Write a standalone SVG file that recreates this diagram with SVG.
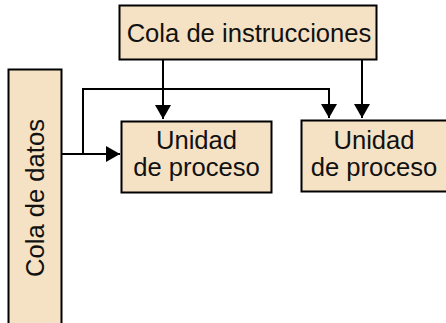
<svg xmlns="http://www.w3.org/2000/svg" width="446" height="323" viewBox="0 0 446 323">
<style>
.box{fill:#F5E1C3;stroke:#000;stroke-width:2}
.t{font-family:"Liberation Sans",Arial,sans-serif;font-size:25.6px;fill:#111;text-anchor:middle}
.c{fill:none;stroke:#000;stroke-width:2}
</style>
<defs>
<marker id="ah" viewBox="0 0 14 16" refX="14" refY="8" markerWidth="14" markerHeight="16" markerUnits="userSpaceOnUse" orient="auto">
<path d="M0,0 L14,8 L0,16 Z" fill="#000"/>
</marker>
</defs>
<rect width="446" height="323" fill="#fff"/>
<g id="cola-instrucciones">
<rect class="box" x="119.5" y="5.5" width="257" height="54"/>
<text class="t" x="249" y="42">Cola de instrucciones</text>
</g>
<g id="cola-datos">
<rect class="box" x="8.5" y="69.5" width="53" height="260"/>
<text class="t" transform="translate(44,198) rotate(-90)">Cola de datos</text>
</g>
<g id="unidad1">
<rect class="box" x="121.5" y="121.5" width="150" height="71"/>
<text class="t" x="196.5" y="149">Unidad</text>
<text class="t" x="196.5" y="176">de proceso</text>
</g>
<g id="unidad2">
<rect class="box" x="301.5" y="120.5" width="150" height="71"/>
<text class="t" x="374" y="149">Unidad</text>
<text class="t" x="374" y="176">de proceso</text>
</g>
<g id="connectors">
<path class="c" d="M163,60 V119" marker-end="url(#ah)"/>
<path class="c" d="M362,60 V118" marker-end="url(#ah)"/>
<path class="c" d="M62,154 H120" marker-end="url(#ah)"/>
<path class="c" d="M83,154 V89 H329 V118" marker-end="url(#ah)"/>
</g>
</svg>
